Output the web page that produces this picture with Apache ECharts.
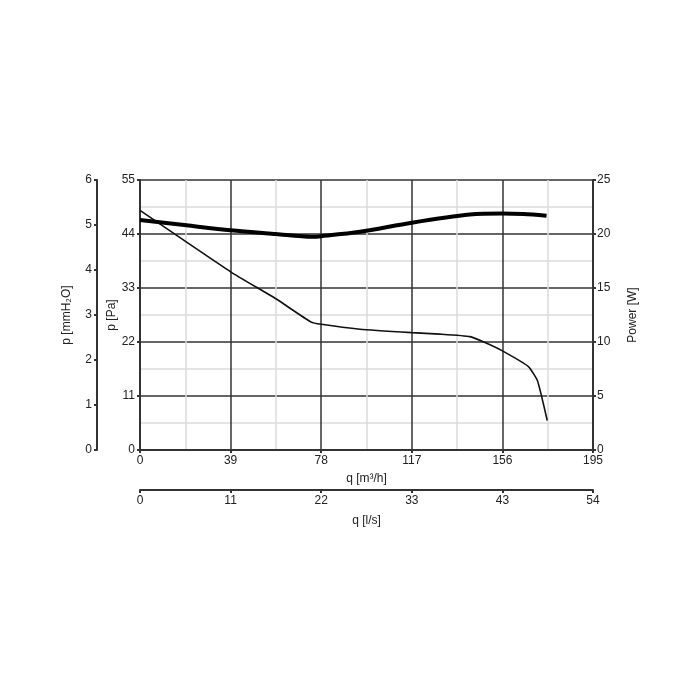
<!DOCTYPE html>
<html>
<head>
<meta charset="utf-8">
<script src="https://cdn.jsdelivr.net/npm/echarts@6/dist/echarts.min.js"></script>
<style>html,body{margin:0;padding:0;background:#fff}#c{width:700px;height:700px}</style>
</head>
<body>
<div id="c"></div>
<script>
var qTicks = [0, 39, 78, 117, 156, 195];
var lsLabels = ['0', '11', '22', '33', '43', '54'];
var pressureQ = [0, 39, 58.5, 73.5, 78, 94.7, 117, 129, 142, 148.5, 156, 167.2, 171.1, 175.3];
var pressurePa = [48.8, 36.3, 30.8, 26.1, 25.6, 24.6, 23.9, 23.6, 23.1, 21.9, 20.2, 17.0, 14.1, 6.0];
var powerQ = [0, 20, 39, 58.5, 74, 78, 94.7, 117, 142, 156, 165, 175];
var powerW = [21.3, 20.8, 20.34, 20.0, 19.75, 19.8, 20.2, 21.05, 21.8, 21.9, 21.85, 21.7];

var FONT = "'Liberation Sans', Arial, sans-serif";
var TXT = '#222';
var AX = '#333';
function pairs(xs, ys) { return xs.map(function (x, i) { return [x, ys[i]]; }); }

var chart = echarts.init(document.getElementById('c'));
chart.setOption({
  animation: false,
  textStyle: { fontFamily: FONT },
  grid: { left: 140, right: 107, top: 180, bottom: 250, containLabel: false },
  xAxis: [
    {
      type: 'value', min: 0, max: 195, interval: 39, position: 'bottom',
      name: 'q [m³/h]', nameLocation: 'middle', nameGap: 23, nameMoveOverlap: false,
      nameTextStyle: { color: TXT, fontSize: 12, fontFamily: FONT },
      axisLine: { onZero: false, lineStyle: { color: AX, width: 2 } },
      axisTick: { show: true, length: 3, lineStyle: { color: AX, width: 2 } },
      axisLabel: { color: TXT, fontSize: 12, fontFamily: FONT, margin: 5 },
      splitLine: { show: true, lineStyle: { color: AX, width: 1.5 } },
      minorTick: { show: false, splitNumber: 2 },
      minorSplitLine: { show: true, lineStyle: { color: '#dcdcdc', width: 1.5 } }
    },
    {
      type: 'value', min: 0, max: 195, interval: 39, position: 'bottom', offset: 40,
      name: 'q [l/s]', nameLocation: 'middle', nameGap: 25, nameMoveOverlap: false,
      nameTextStyle: { color: TXT, fontSize: 12, fontFamily: FONT },
      axisLine: { onZero: false, lineStyle: { color: AX, width: 2 } },
      axisTick: { show: true, length: 3, lineStyle: { color: AX, width: 2 } },
      axisLabel: { color: TXT, fontSize: 12, fontFamily: FONT, margin: 5,
        formatter: function (v) { var i = qTicks.indexOf(v); return i >= 0 ? lsLabels[i] : ''; } },
      splitLine: { show: false }
    }
  ],
  yAxis: [
    {
      type: 'value', min: 0, max: 55, interval: 11, position: 'left',
      name: 'p [Pa]', nameLocation: 'middle', nameGap: 22, nameRotate: 90, nameMoveOverlap: false,
      nameTextStyle: { color: TXT, fontSize: 12, fontFamily: FONT },
      axisLine: { show: true, onZero: false, lineStyle: { color: AX, width: 2 } },
      axisTick: { show: true, length: 3, lineStyle: { color: AX, width: 2 } },
      axisLabel: { color: TXT, fontSize: 12, fontFamily: FONT, margin: 5 },
      splitLine: { show: true, lineStyle: { color: AX, width: 1.5 } },
      minorTick: { show: false, splitNumber: 2 },
      minorSplitLine: { show: true, lineStyle: { color: '#dcdcdc', width: 1.5 } }
    },
    {
      type: 'value', min: 0, max: 6, interval: 1, position: 'left', offset: 43,
      name: 'p [mmH₂O]', nameLocation: 'middle', nameGap: 24, nameRotate: 90, nameMoveOverlap: false,
      nameTextStyle: { color: TXT, fontSize: 12, fontFamily: FONT },
      axisLine: { show: true, onZero: false, lineStyle: { color: AX, width: 2 } },
      axisTick: { show: true, length: 3, lineStyle: { color: AX, width: 2 } },
      axisLabel: { color: TXT, fontSize: 12, fontFamily: FONT, margin: 5 },
      splitLine: { show: false }
    },
    {
      type: 'value', min: 0, max: 25, interval: 5, position: 'right',
      name: 'Power [W]', nameLocation: 'middle', nameGap: 34, nameRotate: 90, nameMoveOverlap: false,
      nameTextStyle: { color: TXT, fontSize: 12, fontFamily: FONT },
      axisLine: { show: true, onZero: false, lineStyle: { color: AX, width: 2 } },
      axisTick: { show: true, length: 3, lineStyle: { color: AX, width: 2 } },
      axisLabel: { color: TXT, fontSize: 12, fontFamily: FONT, margin: 4 },
      splitLine: { show: false }
    }
  ],
  series: [
    {
      type: 'line', xAxisIndex: 0, yAxisIndex: 0, showSymbol: false, smooth: 0.15,
      data: pairs(pressureQ, pressurePa),
      lineStyle: { color: '#111', width: 1.6 }
    },
    {
      type: 'line', xAxisIndex: 0, yAxisIndex: 2, showSymbol: false, smooth: 0.3,
      data: pairs(powerQ, powerW),
      lineStyle: { color: '#000', width: 4 }
    }
  ]
});
</script>
</body>
</html>
